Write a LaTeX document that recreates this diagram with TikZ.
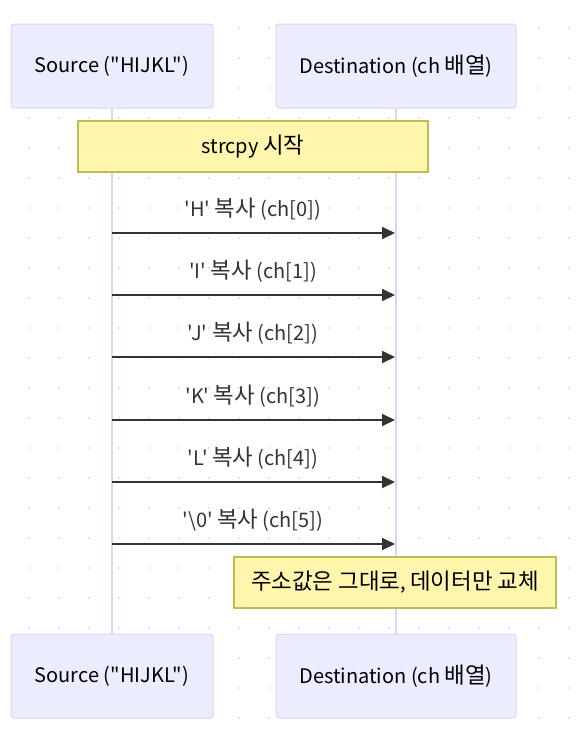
\documentclass[tikz,border=0pt]{standalone}
\usepackage{fontspec}
\setmainfont{Noto Sans CJK KR}[Ligatures=TeXOff]
\newfontfamily\krfont{Noto Sans CJK KR}[Scale=1.12,Ligatures=TeXOff]
\newcommand{\kr}[1]{{\krfont #1}}
\usetikzlibrary{arrows.meta}
\definecolor{actorfill}{HTML}{ECECFF}
\definecolor{actorline}{HTML}{DCD3F5}
\definecolor{lifecol}{HTML}{DCD3F5}
\definecolor{notefill}{HTML}{FFF5AD}
\definecolor{notestroke}{HTML}{BDBD55}
\definecolor{arrowcol}{HTML}{333333}
\definecolor{dotcol}{HTML}{E3E3E3}
\begin{document}
\begin{tikzpicture}[x=1pt,y=-1pt,
  actor/.style={draw=actorline, fill=actorfill, line width=1pt, rounded corners=3pt,
    minimum height=84pt, inner sep=0pt, font=\fontsize{20}{24}\selectfont, text=black},
  notebox/.style={draw=notestroke, fill=notefill, line width=1.5pt,
    minimum height=51pt, inner sep=0pt, font=\fontsize{20}{24}\selectfont, text=black},
  lifeline/.style={draw=lifecol, line width=2pt},
  msg/.style={draw=arrowcol, line width=1.8pt, -{Triangle[length=13pt,width=12pt]}},
  lbl/.style={font=\fontsize{20}{24}\selectfont, text=arrowcol, inner sep=0pt}]
\useasboundingbox (0,0) rectangle (584,742);
% dot grid
\foreach \i in {0,...,19}{
  \foreach \j in {0,...,23}{
    \fill[dotcol] (-1+30*\i, 28+30*\j) circle (1.4pt);
  }
}
% actors
\node[actor, minimum width=202pt] (s1) at (112,66) {Source ("HIJKL")};
\node[actor, minimum width=240pt] (d1) at (396,66) {Destination (ch \kr{배열})};
\node[actor, minimum width=202pt] (s2) at (112,676) {Source ("HIJKL")};
\node[actor, minimum width=240pt] (d2) at (396,676) {Destination (ch \kr{배열})};
% lifelines
\draw[lifeline] (s1.south) -- (s2.north);
\draw[lifeline] (d1.south) -- (d2.north);
% note 1
\node[notebox, minimum width=350pt] (n1) at (253,146.5) {strcpy \kr{시작}};
% message end points
\coordinate (a0) at (112,233);   \coordinate (b0) at (395,233);
\coordinate (a1) at (112,295);   \coordinate (b1) at (395,295);
\coordinate (a2) at (112,357);   \coordinate (b2) at (395,357);
\coordinate (a3) at (112,420);   \coordinate (b3) at (395,420);
\coordinate (a4) at (112,482);   \coordinate (b4) at (395,482);
\coordinate (a5) at (112,544);   \coordinate (b5) at (395,544);
\draw[msg] (a0) -- (b0);
\draw[msg] (a1) -- (b1);
\draw[msg] (a2) -- (b2);
\draw[msg] (a3) -- (b3);
\draw[msg] (a4) -- (b4);
\draw[msg] (a5) -- (b5);
\node[lbl] (l0) at (253,209) {'H' \kr{복사} (ch[0])};
\node[lbl] (l1) at (253,271) {'I' \kr{복사} (ch[1])};
\node[lbl] (l2) at (253,333) {'J' \kr{복사} (ch[2])};
\node[lbl] (l3) at (253,396) {'K' \kr{복사} (ch[3])};
\node[lbl] (l4) at (253,458) {'L' \kr{복사} (ch[4])};
\node[lbl] (l5) at (253,520) {'\textbackslash0' \kr{복사} (ch[5])};
% note 2
\node[notebox, minimum width=322pt] (n2) at (395,582.5) {\kr{주소값은 그대로}, \kr{데이터만 교체}};
\end{tikzpicture}
\end{document}
